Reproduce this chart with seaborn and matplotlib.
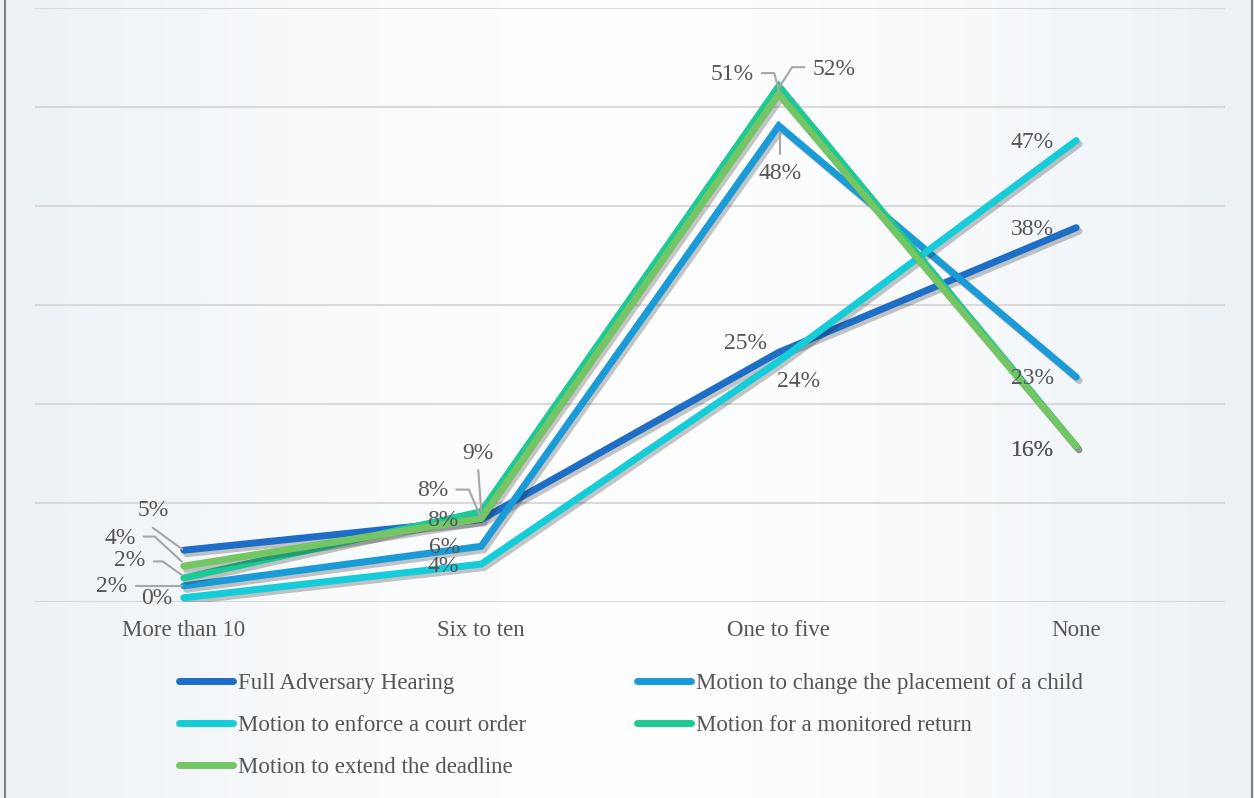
import numpy as np
import pandas as pd
import matplotlib
matplotlib.use("Agg")
import matplotlib.pyplot as plt
import matplotlib.patheffects as pe
from matplotlib.lines import Line2D
import seaborn as sns

# ---------------- data ----------------
categories = ["More than 10", "Six to ten", "One to five", "None"]
series_names = [
    "Full Adversary Hearing",
    "Motion to change the placement of a child",
    "Motion to enforce a court order",
    "Motion for a monitored return",
    "Motion to extend the deadline",
]
full_adversary = [5.2, 8.3, 25.2, 37.8]
change_placement = [1.6, 5.6, 48.1, 22.7]
enforce_order = [0.4, 3.8, 24.3, 46.6]
monitored_return = [2.4, 9.1, 52.1, 15.7]
extend_deadline = [3.6, 8.4, 51.3, 15.7]
y_ticks = [0, 10, 20, 30, 40, 50, 60]

all_series = [full_adversary, change_placement, enforce_order,
              monitored_return, extend_deadline]

# ---------------- style ----------------
colors = ["#1D6EC6", "#1A9BD7", "#14CDD9", "#1DC994", "#73C663"]
TEXT = "#555555"
LEADER = "#A6A6A6"
W, H = 1254, 798

# label placement (pixel offsets: dx right, dy down) and optional leader vertices
label_pos = {
    0: [(-31, -40, [(-31, -22.5), (-1.5, -1)]), (-39, 1, None), (-33, -9, None), (-44, 2, None)],
    1: [(-72, 1, [(-48, 0), (-2, 0)]), (-37, 1, None), (1.5, 48, [(1, 6), (1, 28)]), (-44, 1, None)],
    2: [(-27, 0.5, None), (-38, 2.5, None), (20, 20.5, None), (-44, 2, None)],
    3: [(-54, -17, [(-30, -16.5), (-21, -16.5), (-2, -3)]), (-3, -58, [(-3, -41.6), (0, -1)]),
        (55, -17, [(25.6, -19), (13.3, -19), (0.6, 1)]), (-44, 4, None)],
    4: [(-64, -28, [(-40, -29.5), (-29, -29.5), (-2, -4.5)]),
        (-49, -28.5, [(-25, -29), (-12.4, -29), (-1, -2.5)]),
        (-47, -20, [(-17, -21), (-4.5, -21), (0.5, -2)]), (-44, 4, None)],
}

sns.set_theme(style="white")
plt.rcParams["font.family"] = ["Liberation Serif", "DejaVu Serif"]

fig = plt.figure(figsize=(W / 100, H / 100), dpi=100)

# soft background gradient
bg = fig.add_axes([0, 0, 1, 1], zorder=-10)
xs = np.linspace(0, 1, 400)
t = np.abs(xs - 0.5) * 2
t = t ** 1.6
edge = np.array([0.925, 0.945, 0.962])
white = np.array([0.995, 0.996, 0.998])
grad = white[None, :] * (1 - t[:, None]) + edge[None, :] * t[:, None]
bg.imshow(grad[None, :, :], aspect="auto", extent=[0, 1, 0, 1])
bg.axis("off")

ax = fig.add_axes([35 / W, 1 - 601.7 / H, 1190 / W, 593.7 / H])
ax.set_facecolor("none")

df = pd.DataFrame({
    "category": np.tile(categories, len(series_names)),
    "series": np.repeat(series_names, len(categories)),
    "value": np.concatenate(all_series),
})

sns.lineplot(data=df, x="category", y="value", hue="series",
             hue_order=series_names, palette=colors, sort=False,
             linewidth=5, errorbar=None, legend=False, ax=ax)

for ln in ax.lines:
    ln.set_solid_capstyle("round")
    ln.set_solid_joinstyle("miter")
    ln.set_path_effects([pe.SimpleLineShadow(offset=(2, -2.5), alpha=0.25),
                         pe.Normal()])

ax.set_ylim(0, 60)
ax.set_xlim(-0.5, 3.5)
ax.set_yticks(y_ticks)
ax.yaxis.grid(True, color="#D9D9D9", linewidth=1.5)
ax.set_axisbelow(True)
ax.tick_params(left=False, bottom=False, labelleft=False,
               labelsize=16.5, labelcolor=TEXT, pad=7)
ax.set_xlabel("")
ax.set_ylabel("")
for s in ax.spines.values():
    s.set_visible(False)

# data labels
inv = fig.transFigure.inverted()
for si, vals in enumerate(all_series):
    for ci, v in enumerate(vals):
        dx, dy, leader = label_pos[si][ci]
        ax.annotate(f"{v:.0f}%", xy=(ci, v), xytext=(dx, -dy),
                    textcoords="offset pixels", ha="center", va="center",
                    fontsize=17, color=TEXT, zorder=10)
        if leader:
            p = ax.transData.transform((ci, v))
            verts = np.array([[p[0] + a, p[1] - b] for a, b in leader])
            fv = inv.transform(verts)
            fig.add_artist(Line2D(fv[:, 0], fv[:, 1], transform=fig.transFigure,
                                  color=LEADER, lw=1.5, zorder=9))

# legend (two columns)
handles = [Line2D([], [], color=c, lw=5, solid_capstyle="round") for c in colors]
common = dict(loc="upper left", frameon=False, fontsize=16.5, labelcolor=TEXT,
              handlelength=2.35, handletextpad=0.22, labelspacing=0.92,
              borderpad=0, borderaxespad=0)
fig.legend([handles[0], handles[2], handles[4]],
           [series_names[0], series_names[2], series_names[4]],
           bbox_to_anchor=(179 / W, 1 - 673 / H), **common)
fig.legend([handles[1], handles[3]],
           [series_names[1], series_names[3]],
           bbox_to_anchor=(637 / W, 1 - 673 / H), **common)

# frame lines at left/right edges
for xp in (5, 1252):
    fig.add_artist(Line2D([xp / W, xp / W], [0, 1], transform=fig.transFigure,
                          color="#808080", lw=1.5))

fig.savefig("out.png", dpi=100)
